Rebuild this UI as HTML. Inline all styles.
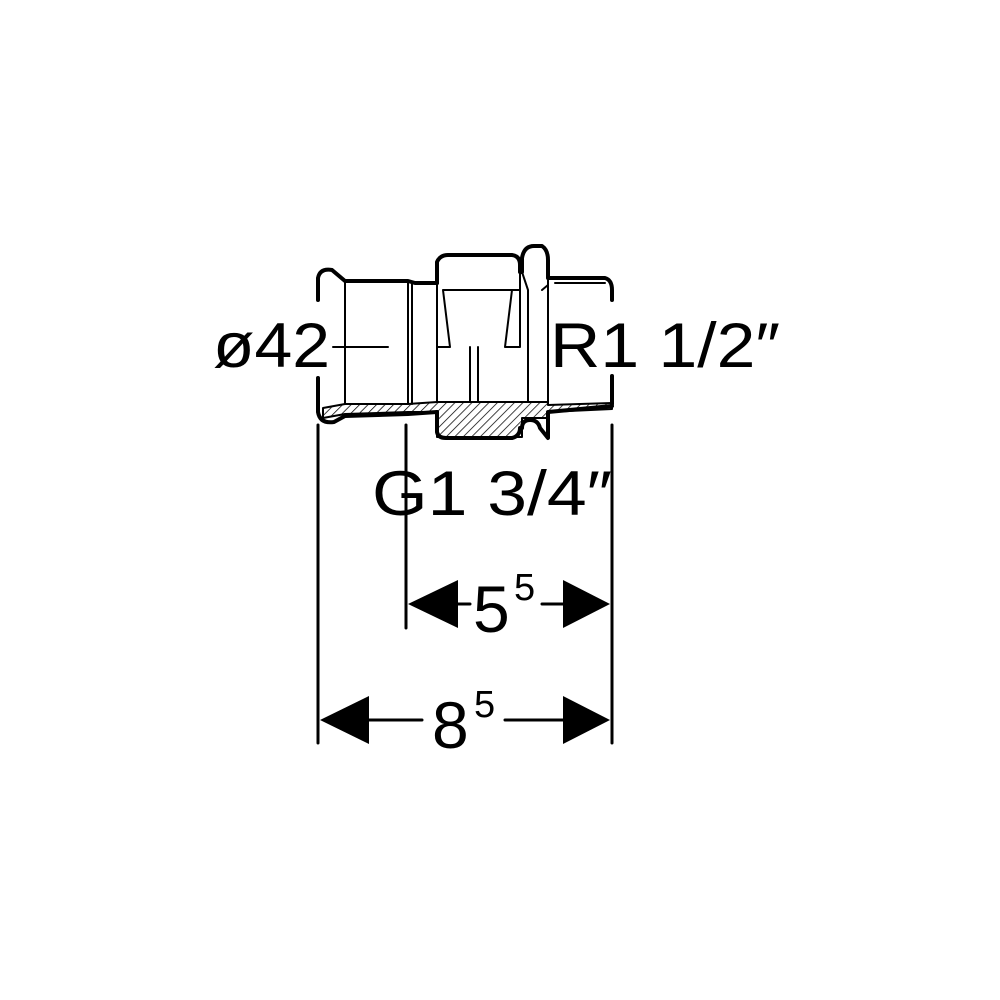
<!DOCTYPE html>
<html><head><style>body{margin:0;background:#fff}svg{display:block}</style></head><body>
<svg width="1000" height="1000" viewBox="0 0 1000 1000" xmlns="http://www.w3.org/2000/svg" font-family="Liberation Sans, sans-serif">
<defs><pattern id="h" width="6" height="6" patternUnits="userSpaceOnUse" patternTransform="rotate(45)"><line x1="0" y1="0" x2="0" y2="6" stroke="#000" stroke-width="1.5"/></pattern></defs>
<g fill="none" stroke="#000" stroke-linecap="round" stroke-linejoin="round">
<path d="M323 408 L345 404 L408 404 L437 402 L548 402 L548 405 L612 403 L612 409 L548 412 L548 418 L522 418 L522 437 L437 437 L437 412 L408 412 L345 414 L323 418 Z" fill="url(#h)" stroke-width="2"/>
<path d="M318 300 L318 278 Q320 268 332 270 L345 281 L408 281 L415 283 L437 283" stroke-width="4"/>
<path d="M318 378 L318 412 Q320 424 334 422 L345 416 L408 414 L437 412" stroke-width="4"/>
<path d="M437 283 L437 262 Q440 255 448 255 L512 255 Q520 256 520 265 L520 272 L522 272 L522 258 Q524 246 534 246 L542 246 Q548 250 548 260 L548 272 L548 278 L605 278 Q612 280 612 290 L612 300" stroke-width="4"/>
<path d="M612 376 L612 404" stroke-width="4"/>
<path d="M437 412 L437 432 Q438 438 446 438 L512 438 Q520 436 520 428 L522 428 Q522 420 530 420 Q538 420 540 428 L548 438 L548 412 L612 406" stroke-width="4"/>
<path d="M345 281 L345 404 M408 283 L408 404 M412 283 L412 404 M437 283 L437 402 M443 290 L520 290 M443 290 L450 347 L437 347 M512 290 L505 347 L520 347 M520 272 L520 347 M548 272 L548 402 M522 272 L528 290 L528 402 M548 285 L542 290 M555 283 L605 283" stroke-width="2"/>
<path d="M333 347 L388 347 M470 347 L470 402 M478 347 L478 402" stroke-width="2"/>
<path d="M318 425 L318 743 M406 425 L406 628 M612 425 L612 743" stroke-width="3"/>
<path d="M458 604 L470 604 M542 604 L563 604 M369 720 L422 720 M505 720 L563 720" stroke-width="3"/>
</g>
<g fill="#000">
<path d="M408 604 L458 580 L458 628 Z"/><path d="M610 604 L563 580 L563 628 Z"/>
<path d="M320 720 L369 696 L369 744 Z"/><path d="M610 720 L563 696 L563 744 Z"/>
</g>
<g fill="#000" font-size="63">
<text x="213" y="367" textLength="117" lengthAdjust="spacingAndGlyphs">ø42</text>
<text x="550" y="367" textLength="230" lengthAdjust="spacingAndGlyphs">R1 1/2″</text>
<text x="372" y="515" textLength="240" lengthAdjust="spacingAndGlyphs">G1 3/4″</text>
<text x="473" y="632" font-size="66">5</text><text x="514" y="600" font-size="38">5</text>
<text x="432" y="748" font-size="66">8</text><text x="474" y="717" font-size="38">5</text>
</g>
</svg>
</body></html>
